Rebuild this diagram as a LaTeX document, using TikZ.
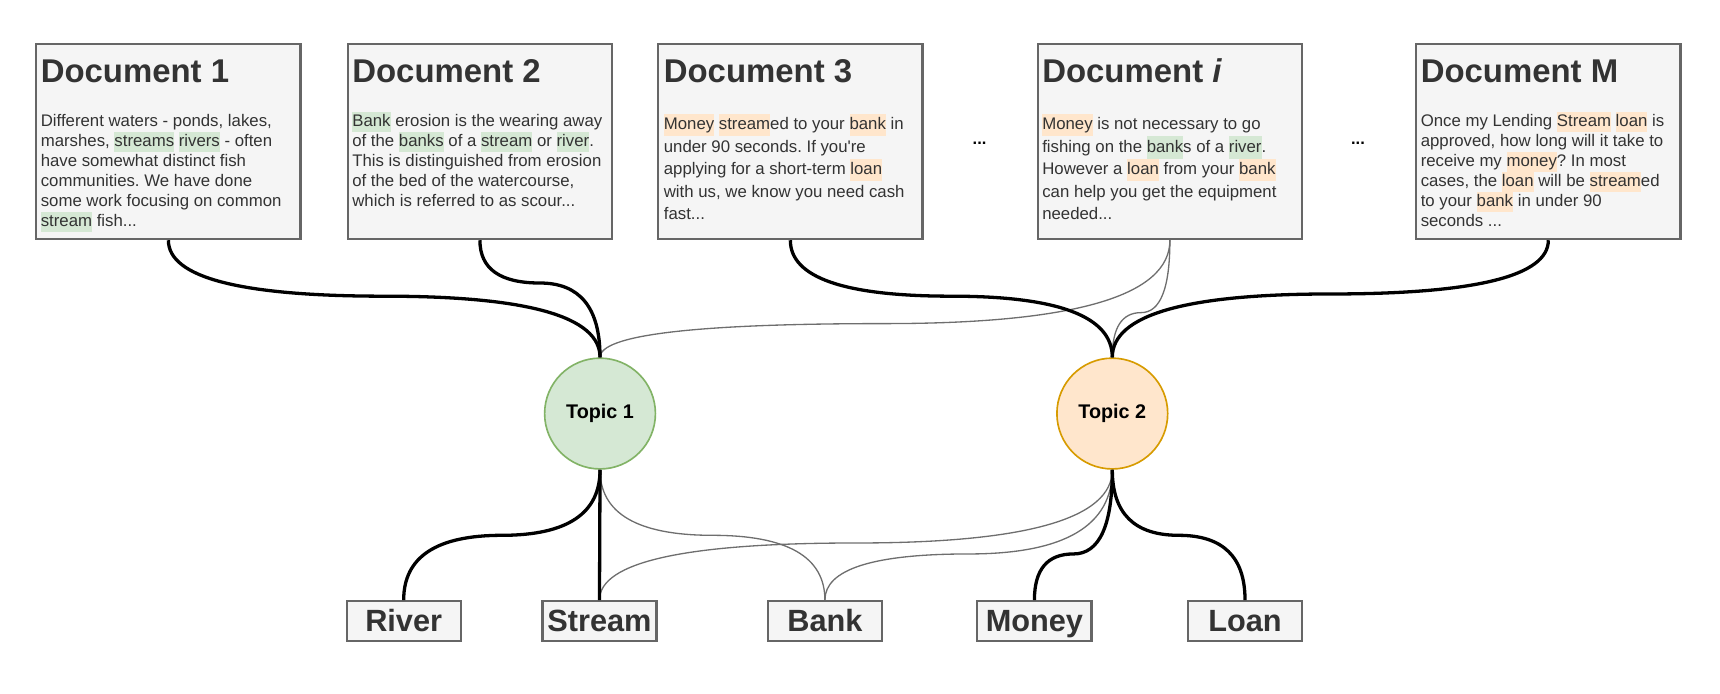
\documentclass[tikz,border=0pt]{standalone}
\usepackage{fontspec}
\setmainfont{Liberation Sans}
\usetikzlibrary{calc}

\definecolor{boxfill}{HTML}{F5F5F5}
\definecolor{boxline}{HTML}{666666}
\definecolor{inkgray}{HTML}{333333}
\definecolor{riverfill}{HTML}{D5E8D4}
\definecolor{riverline}{HTML}{82B366}
\definecolor{moneyfill}{HTML}{FFE6CC}
\definecolor{moneyline}{HTML}{D79B00}
\definecolor{wiregray}{HTML}{6E6E6E}

\frenchspacing
\newcommand{\hlg}[1]{{\setlength{\fboxsep}{0pt}\colorbox{riverfill}{\strut#1}}}
\newcommand{\hlo}[1]{{\setlength{\fboxsep}{0pt}\colorbox{moneyfill}{\strut#1}}}
\newcommand{\wire}[4][]{%
	\coordinate (k1) at (#2 |- 0,#4);
	\coordinate (k2) at (#3 |- 0,#4);
	\coordinate (km) at ($(k1)!.5!(k2)$);
	\draw[#1] (#2) .. controls ($(#2)!2/3!(k1)$) and ($(km)!2/3!(k1)$) .. (km)
		.. controls ($(km)!2/3!(k2)$) and ($(#3)!2/3!(k2)$) .. (#3);}

\begin{document}
\begin{tikzpicture}[x=1pt,y=-1pt,
	doc/.style={draw=boxline, line width=2pt, fill=boxfill, minimum width=241pt, minimum height=178pt, anchor=north west, inner sep=0pt},
	head/.style={anchor=base west, inner sep=0pt, text=inkgray, font=\fontsize{30}{36}\selectfont\bfseries},
	body/.style={anchor=north west, inner sep=0pt, text=inkgray, align=left, font=\fontsize{15.3}{18.2}\selectfont},
	loose/.style={font=\fontsize{15.3}{20.5}\selectfont},
	topic/.style={circle, minimum size=101pt, inner sep=0pt, line width=1.5pt, font=\fontsize{18}{22}\selectfont\bfseries},
	word/.style={draw=boxline, line width=2pt, fill=boxfill, minimum width=104pt, minimum height=36pt, inner sep=0pt, text height=20pt, text depth=0pt, text=inkgray, font=\fontsize{28}{32}\selectfont\bfseries},
	strong/.style={line width=3pt},
	weak/.style={draw=wiregray, line width=1.2pt}]
	\path (0,0) rectangle (1568,632);

	\node[doc] at (32,39) (doc1){};
	\node[doc] at (316,39) (doc2){};
	\node[doc] at (599,39) (doc3){};
	\node[doc] at (945,39) (doci){};
	\node[doc] at (1290,39) (docm){};

	\node[head] at (37,75) (head1){Document 1};
	\node[head] at (321,75) (head2){Document 2};
	\node[head] at (605,75) (head3){Document 3};
	\node[head] at (950,75) (headi){Document \textit{i}};
	\node[head] at (1295,75) (headm){Document M};

	\node[body] at (37,102.3) (text1){\strut Different waters - ponds, lakes,\\
		marshes, \hlg{streams} \hlg{rivers} - often\\
		have somewhat distinct fish\\
		communities. We have done\\
		some work focusing on common\\
		\hlg{stream} fish...};
	\node[body] at (321,102.3) (text2){\strut\hlg{Bank} erosion is the wearing away\\
		of the \hlg{banks} of a \hlg{stream} or \hlg{river}.\\
		This is distinguished from erosion\\
		of the bed of the watercourse,\\
		which is referred to as scour...};
	\node[body, loose] at (605,103.6) (text3){\strut\hlo{Money} \hlo{stream}ed to your \hlo{bank} in\\
		under 90 seconds. If you\textquotesingle re\\
		applying for a short-term \hlo{loan}\\
		with us, we know you need cash\\
		fast...};
	\node[body, loose] at (950,103.6) (texti){\strut\hlo{Money} is not necessary to go\\
		fishing on the \hlg{bank}s of a \hlg{river}.\\
		However a \hlo{loan} from your \hlo{bank}\\
		can help you get the equipment\\
		needed...};
	\node[body] at (1295,102.3) (textm){\strut Once my Lending \hlo{Stream} \hlo{loan} is\\
		approved, how long will it take to\\
		receive my \hlo{money}? In most\\
		cases, the \hlo{loan} will be \hlo{stream}ed\\
		to your \hlo{bank} in under 90\\
		seconds ...};

	\node[font=\fontsize{15}{18}\selectfont\bfseries] at (893,131) (dots1){...};
	\node[font=\fontsize{15}{18}\selectfont\bfseries] at (1238,131) (dots2){...};

	\node[topic, draw=riverline, fill=riverfill] at (547,377) (topic1){Topic 1};
	\node[topic, draw=moneyline, fill=moneyfill] at (1014,377) (topic2){Topic 2};

	\node[word] at (368,566) (river){River};
	\node[word] at (546.5,566) (stream){Stream};
	\node[word] at (752,566) (bank){Bank};
	\node[word] at (943,566) (money){Money};
	\node[word] at (1135,566) (loan){Loan};

	\wire[weak]{doci.south}{topic1.north}{295}
	\wire[weak]{doci.south}{topic2.north}{285}
	\wire[weak]{topic1.south}{bank.north}{488}
	\wire[weak]{topic2.south}{stream.north}{495}
	\wire[weak]{topic2.south}{bank.north}{505}
	\wire[strong]{doc1.south}{topic1.north}{270}
	\wire[strong]{doc2.south}{topic1.north}{258}
	\wire[strong]{doc3.south}{topic2.north}{270}
	\wire[strong]{docm.south}{topic2.north}{268}
	\wire[strong]{topic1.south}{river.north}{488}
	\draw[strong] (topic1.south) -- (stream.north);
	\wire[strong]{topic2.south}{money.north}{505}
	\wire[strong]{topic2.south}{loan.north}{488}
\end{tikzpicture}
\end{document}
